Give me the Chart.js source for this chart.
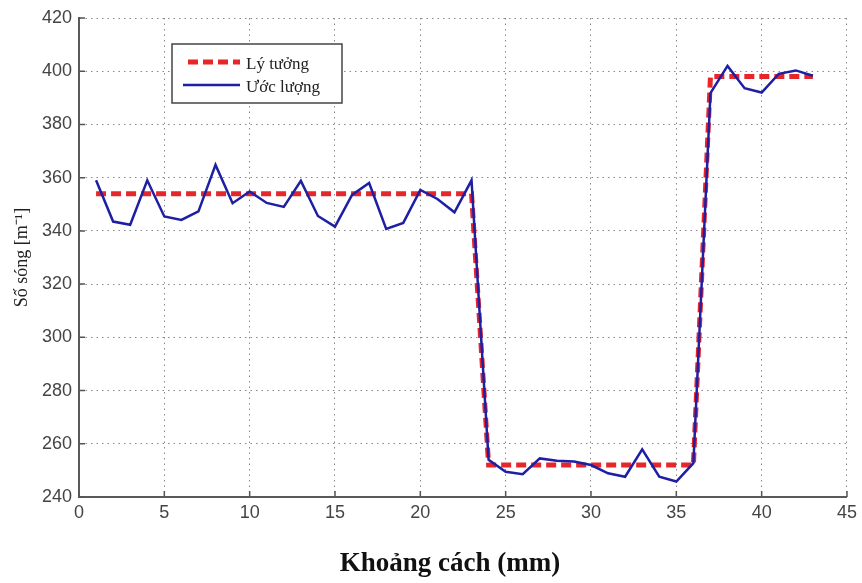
<!DOCTYPE html>
<html>
<head>
<meta charset="utf-8">
<script src="https://cdn.jsdelivr.net/npm/chart.js@4.4.0/dist/chart.umd.min.js"></script>
<style>
html, body { margin: 0; padding: 0; background: #fff; }
</style>
</head>
<body>
<canvas id="waveChart" width="862" height="583"></canvas>
<script>
// distance along the sample (mm)
const positions = [1, 2, 3, 4, 5, 6, 7, 8, 9, 10, 11, 12, 13, 14, 15, 16, 17, 18, 19, 20, 21, 22,
  23, 24, 25, 26, 27, 28, 29, 30, 31, 32, 33, 34, 35, 36, 37, 38, 39, 40, 41, 42, 43];

// estimated wavenumber at each position
const estimated = [359, 343.5, 342.3, 359, 345.4, 344.1, 347.3, 364.8, 350.4, 354.8, 350.5, 349,
  358.8, 345.6, 341.6, 353.5, 358, 340.7, 343, 355.4, 352, 347, 359,
  254, 249.5, 248.6, 254.5, 253.6, 253.3, 252, 248.9, 247.6, 257.9, 247.6, 245.8, 252.7,
  391.8, 402, 393.6, 392, 399, 400.3, 398.3];

// ideal step profile
const idealX = [1, 23, 24, 36, 37, 43];
const idealY = [354, 354, 252, 252, 398, 398];

const xTicks = [0, 5, 10, 15, 20, 25, 30, 35, 40, 45];
const yTicks = [240, 260, 280, 300, 320, 340, 360, 380, 400, 420];

const seriesNames = ["Lý tưởng", "Ước lượng"];
const xTitle = "Khoảng cách (mm)";
const yTitle = "Số sóng [m⁻¹]";

// inward ticks, boxed legend and the x-axis title
const frameExtras = {
  id: "frameExtras",
  afterDraw(chart) {
    const { ctx, chartArea: a, scales: { x, y } } = chart;
    ctx.save();

    ctx.strokeStyle = "#555";
    ctx.lineWidth = 1.5;
    ctx.beginPath();
    xTicks.forEach(v => {
      const px = x.getPixelForValue(v);
      ctx.moveTo(px, a.bottom);
      ctx.lineTo(px, a.bottom - 6);
    });
    yTicks.forEach(v => {
      const py = y.getPixelForValue(v);
      ctx.moveTo(a.left, py);
      ctx.lineTo(a.left + 6, py);
    });
    ctx.stroke();

    // legend
    const bx = a.left + 93, by = a.top + 26, bw = 170, bh = 59;
    ctx.fillStyle = "#fff";
    ctx.fillRect(bx, by, bw, bh);
    ctx.strokeStyle = "#444";
    ctx.lineWidth = 1.5;
    ctx.strokeRect(bx, by, bw, bh);

    const ds = chart.data.datasets;
    const rows = [by + 18, by + 41];
    ds.forEach((d, i) => {
      ctx.beginPath();
      ctx.strokeStyle = d.borderColor;
      ctx.lineWidth = d.borderWidth;
      ctx.setLineDash(d.borderDash || []);
      ctx.moveTo(bx + (i === 0 ? 16 : 11), rows[i]);
      ctx.lineTo(bx + 68, rows[i]);
      ctx.stroke();
      ctx.setLineDash([]);
      ctx.fillStyle = "#222";
      ctx.font = "17px 'Liberation Serif'";
      ctx.textBaseline = "middle";
      ctx.textAlign = "left";
      ctx.fillText(d.label, bx + 74, rows[i] + 3);
    });

    ctx.fillStyle = "#111";
    ctx.font = "bold 27px 'Liberation Serif'";
    ctx.textAlign = "center";
    ctx.textBaseline = "alphabetic";
    ctx.fillText(xTitle, 450, 571);

    ctx.restore();
  }
};

const gridDots = { color: "#8a8a8a", lineWidth: 1, drawTicks: false };

new Chart(document.getElementById("waveChart"), {
  type: "line",
  data: {
    datasets: [
      {
        label: seriesNames[0],
        data: idealX.map((v, i) => ({ x: v, y: idealY[i] })),
        borderColor: "#e5262b",
        borderWidth: 5,
        borderDash: [10, 5],
        pointRadius: 0,
        tension: 0,
        order: 1
      },
      {
        label: seriesNames[1],
        data: positions.map((v, i) => ({ x: v, y: estimated[i] })),
        borderColor: "#1e1fa3",
        borderWidth: 2.5,
        pointRadius: 0,
        tension: 0,
        order: 0
      }
    ]
  },
  options: {
    responsive: false,
    animation: false,
    devicePixelRatio: 1,
    layout: { padding: { top: 18, right: 12, left: 0, bottom: 0 } },
    plugins: { legend: { display: false }, tooltip: { enabled: false } },
    scales: {
      x: {
        type: "linear",
        min: 0,
        max: 45,
        afterBuildTicks: s => { s.ticks = xTicks.map(v => ({ value: v })); },
        afterFit: s => { s.height = 86; },
        grid: gridDots,
        border: { display: true, color: "#5a5a5a", width: 2, dash: [1.5, 4] },
        ticks: { color: "#444", font: { family: "Liberation Sans", size: 18 }, padding: 5, maxRotation: 0 }
      },
      y: {
        type: "linear",
        min: 240,
        max: 420,
        afterBuildTicks: s => { s.ticks = yTicks.map(v => ({ value: v })); },
        afterFit: s => { s.width = 79; },
        grid: gridDots,
        border: { display: true, color: "#5a5a5a", width: 2, dash: [1.5, 4] },
        ticks: { color: "#444", font: { family: "Liberation Sans", size: 18 }, padding: 7 },
        title: {
          display: true,
          text: yTitle,
          color: "#222",
          font: { family: "Liberation Serif", size: 18 },
          padding: { top: 11, bottom: 0 }
        }
      }
    }
  },
  plugins: [frameExtras]
});
</script>
</body>
</html>
